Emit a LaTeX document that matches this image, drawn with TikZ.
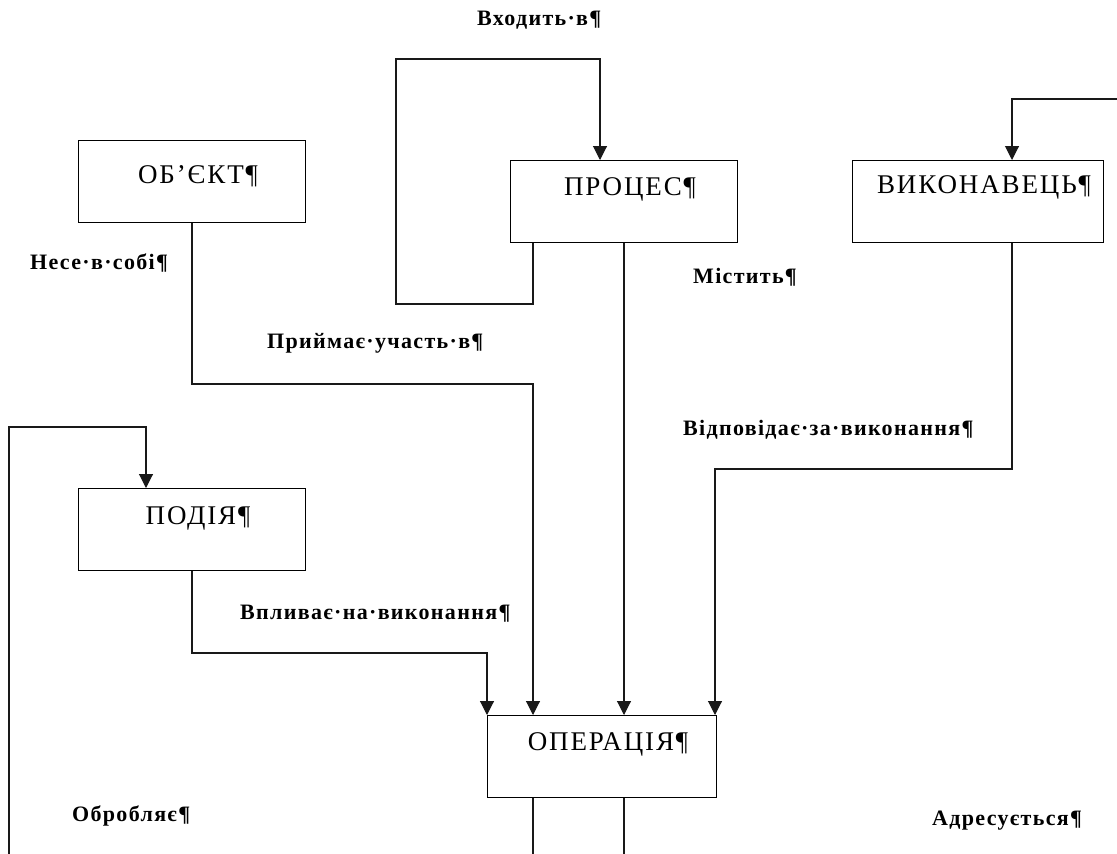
\documentclass[tikz,border=0pt]{standalone}
\usepackage{fontspec}
\setmainfont{Liberation Serif}
\newfontfamily\boxfont[LetterSpace=7]{Liberation Serif}
\newfontfamily\lblfont[LetterSpace=6]{Liberation Serif}
\usetikzlibrary{arrows.meta}
\tikzset{
  box/.style={draw, line width=1pt, anchor=north west, inner sep=0pt, align=center,
    font=\boxfont\fontsize{27}{30}\selectfont},
  lbl/.style={anchor=base west, inner sep=0pt, font=\lblfont\fontsize{22}{25}\selectfont\bfseries},
  link/.style={line width=1.1pt, draw=black!90},
  arr/.style={link, -{Triangle[width=14pt,length=14pt]}}
}
\begin{document}
\begin{tikzpicture}[x=1pt,y=-1pt]
\useasboundingbox (0,0) rectangle (1117,854);
% boxes
\node[box, minimum width=227pt, minimum height=82pt, text width=227pt, text height=43pt, text depth=39pt] (obj) at (78,140) {\hspace*{12pt}ОБ’ЄКТ¶};
\node[box, minimum width=227pt, minimum height=82pt, text width=227pt, text height=35pt, text depth=47pt] (proc) at (510,160) {\hspace*{12pt}ПРОЦЕС¶};
\node[box, minimum width=251pt, minimum height=82pt, text width=251pt, text height=33pt, text depth=49pt] (exec) at (852,160) {\hspace*{12pt}ВИКОНАВЕЦЬ¶};
\node[box, minimum width=227pt, minimum height=82pt, text width=227pt, text height=36pt, text depth=46pt] (ev) at (78,488) {\hspace*{12pt}ПОДІЯ¶};
\node[box, minimum width=229pt, minimum height=82pt, text width=229pt, text height=35pt, text depth=47pt] (oper) at (487,715) {\hspace*{12pt}ОПЕРАЦІЯ¶};
% labels
\node[lbl] (l1) at (477,25) {Входить·в¶};
\node[lbl] (l2) at (30,269) {Несе·в·собі¶};
\node[lbl] (l3) at (267,348) {Приймає·участь·в¶};
\node[lbl] (l4) at (693,283) {Містить¶};
\node[lbl] (l5) at (683,435) {Відповідає·за·виконання¶};
\node[lbl] (l6) at (240,619) {Впливає·на·виконання¶};
\node[lbl] (l7) at (72,821) {Обробляє¶};
\node[lbl] (l8) at (932,825) {Адресується¶};
% bend points and free ends
\coordinate (pa) at (396,304);
\coordinate (pb) at (600,59);
\coordinate (oa) at (533,384);
\coordinate (ea) at (1125,99);
\coordinate (eb) at (715,469);
\coordinate (va) at (9,870);
\coordinate (vb) at (146,427);
\coordinate (vc) at (487,653);
\coordinate (da) at (533,870);
\coordinate (db) at (624,870);
% connectors
\draw[arr] ([xshift=23pt]proc.south west) |- (pa) |- (pb) -- (pb |- proc.north);
\draw[arr] (proc.south) -- (proc.south |- oper.north);
\draw[arr] (obj.south) |- (oa) -- (oa |- oper.north);
\draw[arr] (ea) -| ([xshift=160pt]exec.north west);
\draw[arr] ([xshift=160pt]exec.south west) |- (eb) -- (eb |- oper.north);
\draw[arr] (va) |- (vb) -- (vb |- ev.north);
\draw[arr] (ev.south) |- (vc) -- (vc |- oper.north);
\draw[link] (da |- oper.south) -- (da);
\draw[link] (db |- oper.south) -- (db);
\end{tikzpicture}
\end{document}
